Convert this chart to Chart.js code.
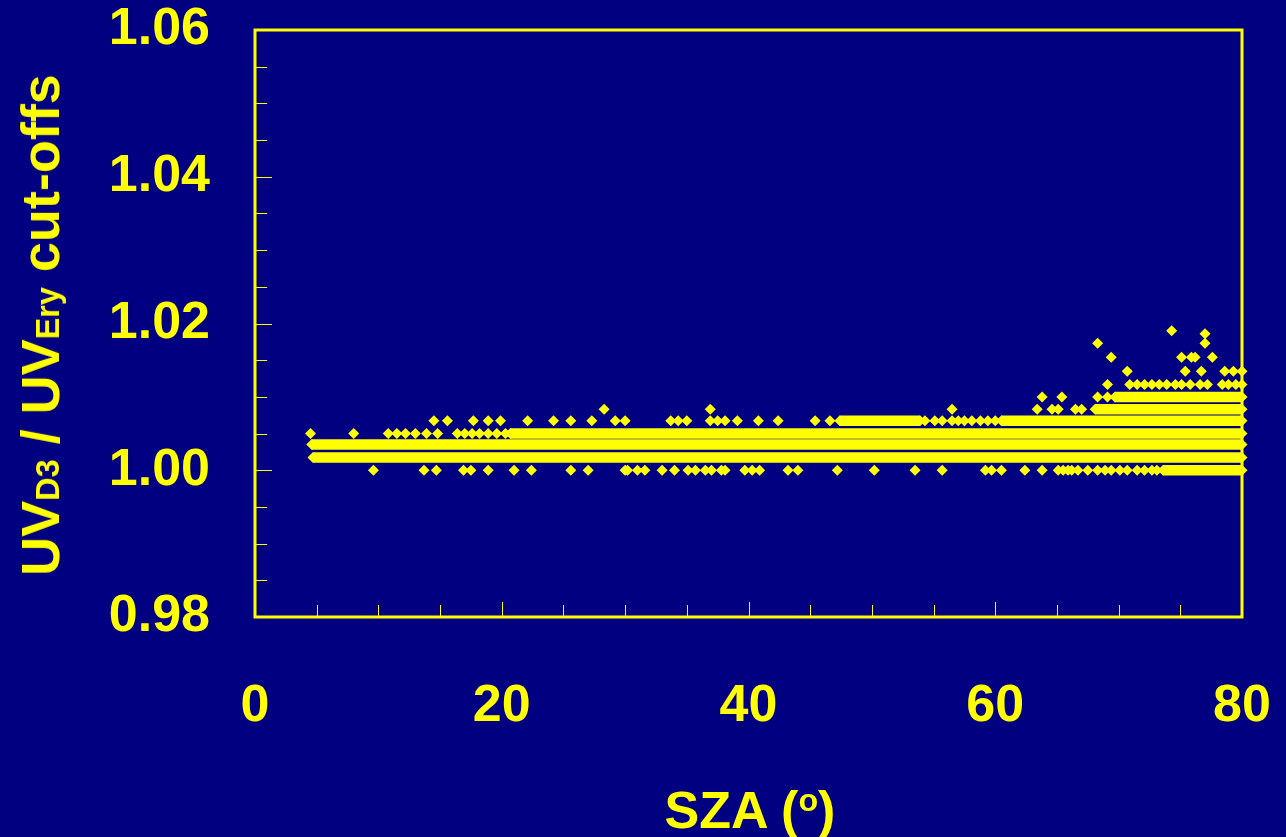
<!DOCTYPE html>
<html>
<head>
<meta charset="utf-8">
<script src="https://cdn.jsdelivr.net/npm/chart.js@4/dist/chart.umd.min.js"></script>
<style>
  html, body { margin: 0; padding: 0; background: #000080; overflow: hidden; }
  #wrap { position: relative; width: 1286px; height: 837px; }
  #chart { position: absolute; left: 0; top: 0; }
  .title { position: absolute; color: #ffff00; font-family: "Liberation Sans", Arial, sans-serif; font-weight: bold; font-size: 52px; white-space: nowrap; line-height: 1; }
  #ytitle { left: 40px; top: 325px; font-size: 54px; transform: translate(-50%, -50%) rotate(-90deg); }
  #xtitle { left: 750px; top: 810px; transform: translate(-50%, -50%); }
  .sub { font-size: 0.6em; vertical-align: baseline; }
  .sup { font-size: 0.62em; vertical-align: 0.55em; }
</style>
</head>
<body>
<div id="wrap">
  <canvas id="chart" width="1286" height="837"></canvas>
  <div class="title" id="ytitle">UV<span class="sub">D3</span> / UV<span class="sub">Ery</span> cut-offs</div>
  <div class="title" id="xtitle">SZA (<span class="sup">o</span>)</div>
</div>
<script>
const YELLOW = '#ffff00'

// axis ranges and labelled ticks
const xTickLabels = [0, 20, 40, 60, 80]
const yTickLabels = [0.98, 1.00, 1.02, 1.04, 1.06]

// dense runs of points: ratio value and SZA from / to
const bandRatio = [1.00175, 1.0035, 1.005, 1.00675, 1.00675, 1.00833, 1.010, 1.000]
const bandFrom  = [4.7, 4.6, 20.7, 47.4, 60.5, 68.1, 69.7, 73.6]
const bandTo    = [80, 80, 80, 53.9, 80, 80, 80, 80]

// scattered points, SZA values grouped by the ratio they sit on
const sza1000 = [9.6, 13.7, 14.7, 16.9, 17.5, 18.9, 21.0, 22.4, 25.6, 27.0, 30.0, 30.2, 31.0, 31.6,
  33.0, 34.0, 35.1, 35.7, 36.5, 37.0, 37.8, 38.1, 39.7, 40.3, 40.9, 43.2, 44.0, 47.2, 50.2, 53.5,
  55.7, 59.2, 59.7, 60.5, 62.4, 63.8, 65.1, 65.5, 65.9, 66.2, 66.7, 67.5, 68.3, 68.9, 69.4, 70.1,
  70.7, 71.5, 72.1, 72.7, 73.1]
const sza1005 = [4.5, 8.0, 10.8, 11.5, 12.2, 13.0, 13.9, 14.8, 16.4, 17.0, 17.6, 18.2, 18.9, 19.6, 20.3]
const sza1007 = [14.5, 15.6, 17.7, 18.9, 19.9, 22.1, 24.2, 25.6, 27.3, 29.2, 30.0, 33.7, 34.3, 35.0,
  36.9, 37.5, 38.1, 39.1, 40.8, 42.4, 45.4, 46.6, 54.3, 55.1, 55.7, 56.5, 57.0, 57.5, 58.1, 58.8,
  59.4, 60.0]
const sza1008 = [28.3, 36.9, 56.5, 63.4, 64.6, 65.1, 66.5, 67.0]
const sza1010 = [63.8, 65.4, 68.3, 69.1]
const sza1012 = [69.1, 70.9, 71.5, 72.1, 72.7, 73.3, 73.9, 74.6, 75.1, 75.8, 76.6, 77.2, 78.4, 78.9, 79.5, 80.0]
const sza1014 = [70.7, 75.4, 76.7, 78.6, 79.3, 80.0]
const sza1015 = [69.4, 75.1, 75.9, 76.2, 77.6]
const sza1017 = [68.3, 77.0]
const sza1019 = [74.3, 77.0]
const ratio1019 = [1.0190, 1.0186]

window.addEventListener('load', () => {
    try {
        buildChart()
    } catch (e) {
        console.error(e)
    }
})

function pointsAt(xs, ratio) {
    return xs.map((x, i) => ({ x, y: Array.isArray(ratio) ? ratio[i] : ratio }))
}

const frame = {
    id: 'frame',
    afterDatasetsDraw(chart) {
        const { ctx, chartArea: a, scales: { x, y } } = chart
        ctx.save()
        ctx.strokeStyle = YELLOW
        ctx.lineWidth = 1
        x.ticks.forEach(t => {
            if (t.value <= 0 || t.value >= 80) return
            const px = Math.round(x.getPixelForValue(t.value)) + 0.5
            const len = t.value % 20 === 0 ? 15 : 12
            ctx.beginPath()
            ctx.moveTo(px, a.bottom)
            ctx.lineTo(px, a.bottom - len)
            ctx.stroke()
        })
        y.ticks.forEach(t => {
            const v = Math.round(t.value * 1000)
            if (v <= 980 || v >= 1060) return
            const py = Math.round(y.getPixelForValue(t.value)) + 0.5
            const len = v % 20 === 0 ? 17 : 12
            ctx.beginPath()
            ctx.moveTo(a.left, py)
            ctx.lineTo(a.left + len, py)
            ctx.stroke()
        })
        ctx.lineWidth = 3
        ctx.strokeRect(a.left, a.top, a.right - a.left, a.bottom - a.top)
        ctx.restore()
    }
}

function buildChart() {
    const datasets = []

    bandRatio.forEach((r, i) => {
        datasets.push({
            data: [{ x: bandFrom[i], y: r }, { x: bandTo[i], y: r }],
            showLine: true,
            borderColor: YELLOW,
            borderWidth: 10.5,
            backgroundColor: YELLOW,
            pointStyle: 'rectRot',
            pointRadius: 5.5,
            pointBorderWidth: 0,
            clip: false
        })
    })

    const scattered = [
        pointsAt(sza1000, 1.000), pointsAt(sza1005, 1.005), pointsAt(sza1007, 1.00675),
        pointsAt(sza1008, 1.00833), pointsAt(sza1010, 1.010), pointsAt(sza1012, 1.0117),
        pointsAt(sza1014, 1.0135), pointsAt(sza1015, 1.0154), pointsAt(sza1017, 1.0173),
        pointsAt(sza1019, ratio1019)
    ]
    scattered.forEach(pts => {
        datasets.push({
            data: pts,
            showLine: false,
            backgroundColor: YELLOW,
            borderColor: YELLOW,
            pointStyle: 'rectRot',
            pointRadius: 5.5,
            pointBorderWidth: 0,
            clip: false
        })
    })

    const tickFont = { family: '"Liberation Sans", Arial, sans-serif', size: 52, weight: 'bold' }

    new Chart(document.getElementById('chart'), {
        type: 'scatter',
        data: { datasets },
        plugins: [frame],
        options: {
            responsive: false,
            animation: false,
            events: [],
            layout: { padding: { top: 30, right: 44, left: 0, bottom: 0 } },
            plugins: { legend: { display: false }, tooltip: { enabled: false } },
            scales: {
                x: {
                    type: 'linear',
                    min: 0,
                    max: 80,
                    grid: { display: false, drawTicks: false },
                    border: { display: false },
                    afterFit: (s) => {
                        s.height = 220
                        s.paddingLeft = 0
                        s.paddingRight = 0
                    },
                    ticks: {
                        stepSize: 5,
                        autoSkip: false,
                        maxRotation: 0,
                        padding: 58,
                        color: YELLOW,
                        font: tickFont,
                        callback: (v) => xTickLabels.includes(v) ? String(v) : ''
                    }
                },
                y: {
                    type: 'linear',
                    min: 0.98,
                    max: 1.06,
                    grid: { display: false, drawTicks: false },
                    border: { display: false },
                    afterFit: (s) => {
                        s.width = 255
                        s.paddingTop = 0
                        s.paddingBottom = 0
                    },
                    ticks: {
                        stepSize: 0.005,
                        autoSkip: false,
                        padding: 45,
                        color: YELLOW,
                        font: tickFont,
                        callback: (v) => {
                            const hit = yTickLabels.find(t => Math.abs(t - v) < 1e-6)
                            return hit === undefined ? '' : hit.toFixed(2)
                        }
                    }
                }
            }
        }
    })
}
</script>
</body>
</html>
